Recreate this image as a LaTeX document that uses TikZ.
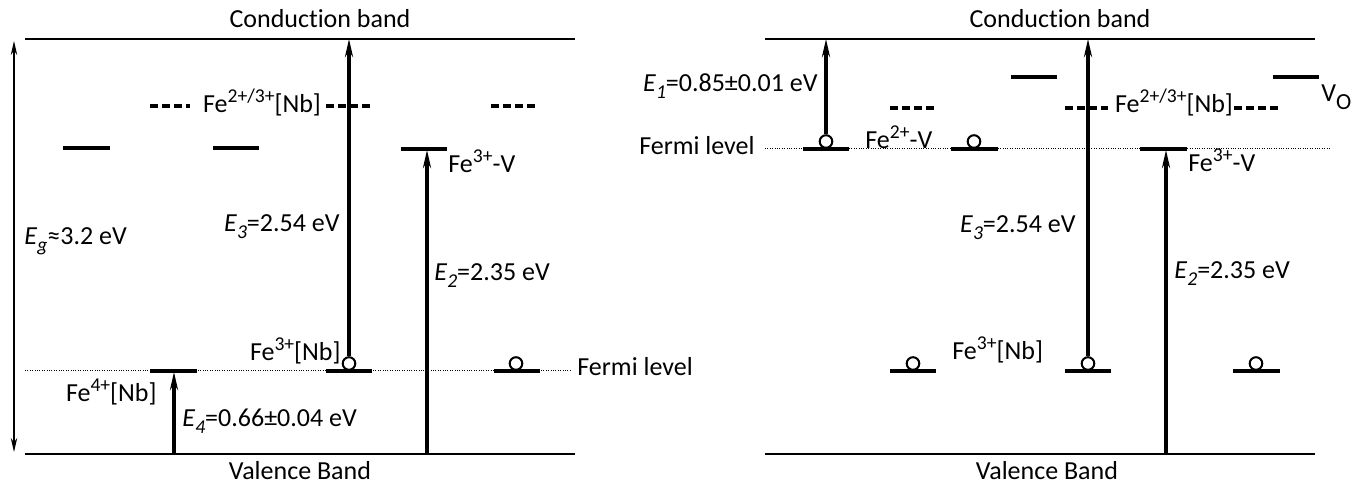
\documentclass[tikz,border=0pt]{standalone}
\usepackage{fontspec}
\setmainfont{Carlito}[Ligatures=NoCommon]
\usetikzlibrary{arrows.meta}
\newcommand\supx[1]{\raisebox{0.42em}{\fontsize{9.8}{10}\selectfont #1}}
\newcommand\subx[1]{\raisebox{-0.25em}{\fontsize{9.8}{10}\selectfont\itshape #1}}
\newcommand\Ei[1]{\textit{E}\subx{#1}}
\begin{document}
\begin{tikzpicture}[x=0.5pt,y=-0.5pt,
  band/.style={line width=1.2pt},
  lvl/.style={line width=1.8pt},
  dlvl/.style={line width=1.6pt, dash pattern=on 4pt off 2pt},
  fermi/.style={line width=0.5pt, dash pattern=on 0.5pt off 0.7pt},
  trans/.style={line width=1.6pt, -{Stealth[length=9pt,width=4pt,inset=3pt]}},
  gap/.style={line width=0.6pt, {Stealth[length=7pt,width=3.2pt,inset=2.2pt]}-{Stealth[length=7pt,width=3.2pt,inset=2.2pt]}},
  hole/.style={circle, draw, line width=1pt, minimum size=6.3pt, inner sep=0pt, fill=white},
  lbl/.style={inner sep=0pt, font=\fontsize{13}{15}\selectfont}]
\useasboundingbox (0,0) rectangle (1355,485);

% ================= LEFT PANEL =================
\coordinate (cbLa) at (25,39); \coordinate (cbLb) at (575,39);
\coordinate (vbLa) at (25,454); \coordinate (vbLb) at (575,454);
\draw[band] (cbLa) -- (cbLb);
\draw[band] (vbLa) -- (vbLb);
\node[lbl, anchor=base] (cbLt) at (320,28) {Conduct\kern0pt ion band};
\node[lbl, anchor=base] (vbLt) at (300,480) {Valence Band};

% Fermi level
\coordinate (fLa) at (25,371); \coordinate (fLb) at (572,371);
\draw[fermi] (fLa) -- (fLb);
\node[lbl, anchor=base west] (fLt) at (577,376) {Fermi level};

% band gap
\coordinate (egT) at (14,41); \coordinate (egB) at (14,452);
\draw[gap] (egB) -- (egT);
\node[lbl, anchor=base west] (egt) at (24,245) {\textit{E}\subx{g}≈3.2 eV};

% dashed Fe2+/3+[Nb]
\draw[dlvl] (150,106) -- (190,106);
\node[lbl, anchor=base] (feNbL) at (262,113) {Fe\supx{2+/3+}[Nb]};
\draw[dlvl] (326,106) -- (373,106);
\draw[dlvl] (491,106) -- (538,106);

% solid levels
\draw[lvl] (63,148) -- (110,148);
\draw[lvl] (213,148) -- (259,148);
\draw[lvl] (401,149) -- (447,149);
\node[lbl, anchor=base west] (fe3vL) at (448,173) {Fe\supx{3+}-V};

% levels at Fermi level
\draw[lvl] (150,371) -- (197,371);
\draw[lvl] (326,371) -- (372,371);
\draw[lvl] (494,371) -- (540,371);
\node[hole] (hL1) at (349,363.5) {};
\node[hole] (hL2) at (516,363.5) {};
\node[lbl, anchor=base east] (fe3nbL) at (341,361) {Fe\supx{3+}[Nb]};
\node[lbl, anchor=base east] (fe4nbL) at (157,402) {Fe\supx{4+}[Nb]};

% transitions
\coordinate (e3L) at (349,39);
\draw[trans] (hL1) -- (e3L);
\node[lbl, anchor=base east] (e3Lt) at (340,232) {\Ei{3}=2.54 eV};

\coordinate (e2La) at (427,454); \coordinate (e2Lb) at (427,150);
\draw[trans] (e2La) -- (e2Lb);
\node[lbl, anchor=base west] (e2Lt) at (434,281) {\Ei{2}=2.35 eV};

\coordinate (e4La) at (174,454); \coordinate (e4Lb) at (174,372);
\draw[trans] (e4La) -- (e4Lb);
\node[lbl, anchor=base west] (e4Lt) at (182,427) {\Ei{4}=0.66±0.04 eV};

% ================= RIGHT PANEL =================
\coordinate (cbRa) at (765,39); \coordinate (cbRb) at (1315,39);
\coordinate (vbRa) at (765,454); \coordinate (vbRb) at (1315,454);
\draw[band] (cbRa) -- (cbRb);
\draw[band] (vbRa) -- (vbRb);
\node[lbl, anchor=base] (cbRt) at (1060,28) {Conduct\kern0pt ion band};
\node[lbl, anchor=base] (vbRt) at (1047,480) {Valence Band};

% Fermi level
\coordinate (fRa) at (765,149); \coordinate (fRb) at (1330,149);
\draw[fermi] (fRa) -- (fRb);
\node[lbl, anchor=base east] (fRt) at (755,155) {Fermi level};

% levels at Fermi
\draw[lvl] (803,149) -- (849,149);
\draw[lvl] (951,149) -- (998,149);
\draw[lvl] (1140,149) -- (1187,149);
\node[hole] (hR0) at (826,141.5) {};
\node[hole] (hR00) at (974,141.5) {};
\node[lbl, anchor=base west] (fe2vR) at (865,149) {Fe\supx{2+}-V};
\node[lbl, anchor=base west] (fe3vR) at (1188,172) {Fe\supx{3+}-V};

% dashed
\draw[dlvl] (890,108) -- (937,108);
\draw[dlvl] (1065,108) -- (1108,108);
\node[lbl, anchor=base] (feNbR) at (1174,113) {Fe\supx{2+/3+}[Nb]};
\draw[dlvl] (1234,108) -- (1280,108);

% V_O levels
\draw[lvl] (1011,77) -- (1057,77);
\draw[lvl] (1273,77) -- (1319,77);
\node[lbl, anchor=base west] (voR) at (1321,102) {V\raisebox{-4pt}{\fontsize{11.5}{12}\selectfont O}};

% levels low
\draw[lvl] (890,371) -- (936,371);
\draw[lvl] (1065,371) -- (1111,371);
\draw[lvl] (1233,371) -- (1280,371);
\node[hole] (hR1) at (913,363.5) {};
\node[hole] (hR2) at (1088,363.5) {};
\node[hole] (hR3) at (1256,363.5) {};
\node[lbl, anchor=base west] (fe3nbR) at (952,360) {Fe\supx{3+}[Nb]};

% transitions
\coordinate (e1R) at (826,39);
\draw[trans] (hR0) -- (e1R);
\node[lbl, anchor=base east] (e1Rt) at (818,92) {\Ei{1}=0.85±0.01 eV};

\coordinate (e3R) at (1088,39);
\draw[trans] (hR2) -- (e3R);
\node[lbl, anchor=base east] (e3Rt) at (1076,233) {\Ei{3}=2.54 eV};

\coordinate (e2Ra) at (1166,454); \coordinate (e2Rb) at (1166,150);
\draw[trans] (e2Ra) -- (e2Rb);
\node[lbl, anchor=base west] (e2Rt) at (1174,279) {\Ei{2}=2.35 eV};
\end{tikzpicture}
\end{document}
